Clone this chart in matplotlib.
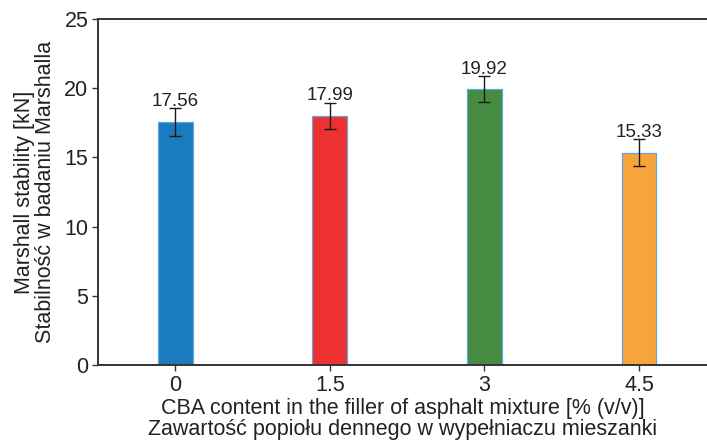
import matplotlib
matplotlib.use("Agg")
import matplotlib.pyplot as plt

plt.rcParams['font.family'] = ['Liberation Sans', 'DejaVu Sans']

categories = ['0', '1.5', '3', '4.5']
stability = [17.56, 17.99, 19.92, 15.33]
errors = [0.98, 0.95, 0.95, 0.97]
colors = ['#1a7bbf', '#ed3131', '#468b42', '#f6a43b']
value_labels = ['17.56', '17.99', '19.92', '15.33']

fig = plt.figure(figsize=(7.07, 4.40), dpi=100)
ax = fig.add_axes([0.1386, 0.1705, 0.8614, 0.7863])

x = list(range(len(categories)))
ax.bar(x, stability, width=0.226, color=colors, edgecolor='#5aa9dc', linewidth=0.9, zorder=2)
ax.errorbar(x, stability, yerr=errors, fmt='none', ecolor='#1a1a1a', elinewidth=1.0,
            capsize=4, capthick=1.0, zorder=3)

for xi, v, e, lab in zip(x, stability, errors, value_labels):
    ax.annotate(lab, (xi, v + e), xytext=(0, -1), textcoords='offset points',
                ha='center', va='bottom', fontsize=13.5, color='#222222')

ax.set_xlim(-0.5, 3.44)
ax.set_ylim(0, 25)
ax.set_yticks([0, 5, 10, 15, 20, 25])
ax.set_xticks(x)
ax.set_xticklabels(categories)

for side in ['top', 'left', 'bottom']:
    ax.spines[side].set_linewidth(1.4)
    ax.spines[side].set_color('#333333')
ax.spines['right'].set_visible(False)

ax.tick_params(axis='both', direction='out', length=4, width=1.0, colors='#333333',
               labelsize=15.5, labelcolor='#222222', pad=3)

ax.set_xlabel('CBA content in the filler of asphalt mixture [% (v/v)]\n'
              'Zawartość popiołu dennego w wypełniaczu mieszanki',
              fontsize=15.5, color='#222222', linespacing=1.0, labelpad=2)
ax.set_ylabel('Marshall stability [kN]\nStabilność w badaniu Marshalla',
              fontsize=15.5, color='#222222', linespacing=1.0, labelpad=6)

fig.savefig('out.png', dpi=100)
